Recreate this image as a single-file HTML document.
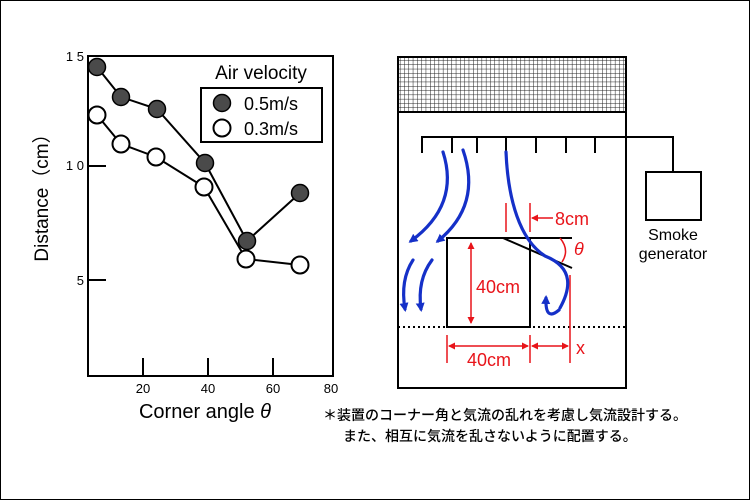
<!DOCTYPE html>
<html><head><meta charset="utf-8"><style>
body{margin:0;background:#fff;}
svg{display:block;}
text{font-family:"Liberation Sans","Noto Sans CJK JP",sans-serif;}
</style></head><body>
<svg width="750" height="500" viewBox="0 0 750 500" xmlns="http://www.w3.org/2000/svg">
<defs>
<pattern id="mesh" width="4.3" height="4.3" patternUnits="userSpaceOnUse">
<rect width="4.3" height="4.3" fill="#fff"/>
<path d="M0 0H4.3M0 0V4.3" stroke="#222" stroke-width="1"/>
</pattern>
<marker id="ab" markerWidth="9" markerHeight="9" refX="6" refY="4.5" orient="auto" markerUnits="userSpaceOnUse"><path d="M0 0L9 4.5L0 9Z" fill="#1530c8"/></marker>
<marker id="ar" markerWidth="7" markerHeight="7" refX="6" refY="3.5" orient="auto" markerUnits="userSpaceOnUse"><path d="M0 0L7 3.5L0 7Z" fill="#e8141a"/></marker>
<marker id="ar2" markerWidth="7" markerHeight="7" refX="1" refY="3.5" orient="auto" markerUnits="userSpaceOnUse"><path d="M7 0L0 3.5L7 7Z" fill="#e8141a"/></marker>
</defs>
<rect x="0.5" y="0.5" width="749" height="499" fill="#fff" stroke="#000" stroke-width="1"/>

<!-- chart -->
<rect x="88" y="56" width="245" height="320" fill="none" stroke="#000" stroke-width="2"/>
<g stroke="#000" stroke-width="2">
<line x1="88" y1="166" x2="106" y2="166"/><line x1="88" y1="280" x2="106" y2="280"/>
<line x1="143" y1="376" x2="143" y2="358"/><line x1="208" y1="376" x2="208" y2="358"/><line x1="273" y1="376" x2="273" y2="358"/>
</g>
<g font-size="13" fill="#000" text-anchor="end">
<text x="84" y="61">1 5</text><text x="84" y="170">1 0</text><text x="84" y="285">5</text>
</g>
<g font-size="13" fill="#000" text-anchor="middle">
<text x="143" y="393">20</text><text x="208" y="393">40</text><text x="273" y="393">60</text><text x="331" y="393">80</text>
</g>
<text x="205" y="418" font-size="20" text-anchor="middle">Corner angle <tspan font-style="italic">θ</tspan></text>
<text transform="translate(48,193) rotate(-90)" font-size="19" text-anchor="middle">Distance（cm）</text>

<polyline points="97,67 121,97 157,109 205,163 247,241 300,193" fill="none" stroke="#000" stroke-width="2"/>
<polyline points="97,115 121,144 156,157 204,187 246,259 300,265" fill="none" stroke="#000" stroke-width="2"/>
<g fill="#4a4a4a" stroke="#000" stroke-width="1.5">
<circle cx="97" cy="67" r="8.5"/><circle cx="121" cy="97" r="8.5"/><circle cx="157" cy="109" r="8.5"/><circle cx="205" cy="163" r="8.5"/><circle cx="247" cy="241" r="8.5"/><circle cx="300" cy="193" r="8.5"/>
</g>
<g fill="#fff" stroke="#000" stroke-width="2">
<circle cx="97" cy="115" r="8.5"/><circle cx="121" cy="144" r="8.5"/><circle cx="156" cy="157" r="8.5"/><circle cx="204" cy="187" r="8.5"/><circle cx="246" cy="259" r="8.5"/><circle cx="300" cy="265" r="8.5"/>
</g>
<text x="261" y="79" font-size="19" text-anchor="middle">Air velocity</text>
<rect x="201" y="88" width="121" height="54" fill="#fff" stroke="#000" stroke-width="2"/>
<circle cx="222" cy="103" r="8.5" fill="#4a4a4a" stroke="#000" stroke-width="1.5"/>
<circle cx="222" cy="128" r="8.5" fill="#fff" stroke="#000" stroke-width="2"/>
<text x="244" y="110" font-size="18">0.5m/s</text>
<text x="244" y="135" font-size="18">0.3m/s</text>

<!-- apparatus -->
<rect x="398" y="57" width="228" height="331" fill="#fff" stroke="#000" stroke-width="2"/>
<rect x="399" y="58" width="226" height="54" fill="url(#mesh)"/>
<line x1="398" y1="112" x2="626" y2="112" stroke="#000" stroke-width="2"/>
<g stroke="#000" stroke-width="2" fill="none">
<polyline points="422,153 422,137 673,137 673,172"/>
<line x1="452" y1="137" x2="452" y2="153"/><line x1="477" y1="137" x2="477" y2="153"/><line x1="506" y1="137" x2="506" y2="153"/>
<line x1="536" y1="137" x2="536" y2="153"/><line x1="566" y1="137" x2="566" y2="153"/><line x1="595" y1="137" x2="595" y2="153"/>
<rect x="646" y="172" width="55" height="48" fill="#fff"/>
<polyline points="572,238 447,238 447,327 530,327 530,238"/>
<line x1="503" y1="238" x2="572" y2="268"/>
</g>
<text x="673" y="240" font-size="16" text-anchor="middle">Smoke</text>
<text x="673" y="259" font-size="16" text-anchor="middle">generator</text>
<line x1="398" y1="327" x2="626" y2="327" stroke="#000" stroke-width="2" stroke-dasharray="2,3"/>

<!-- red -->
<g stroke="#e8141a" stroke-width="1.5" fill="none">
<line x1="506" y1="203" x2="506" y2="232"/><line x1="530" y1="203" x2="530" y2="232"/>
<line x1="553" y1="218" x2="532" y2="218" marker-end="url(#ar)"/>
<path d="M560 238 Q570 250 562 262"/>
<line x1="471" y1="243" x2="471" y2="323" marker-start="url(#ar2)" marker-end="url(#ar)"/>
<line x1="447" y1="335" x2="447" y2="363"/><line x1="530" y1="335" x2="530" y2="363"/>
<line x1="570" y1="275" x2="570" y2="363"/>
<line x1="449" y1="346" x2="528" y2="346" marker-start="url(#ar2)" marker-end="url(#ar)"/>
<line x1="532" y1="346" x2="568" y2="346" marker-start="url(#ar2)" marker-end="url(#ar)"/>
</g>
<g fill="#e8141a" font-size="18">
<text x="555" y="225">8cm</text>
<text x="574" y="255" font-style="italic">θ</text>
<text x="476" y="293">40cm</text>
<text x="489" y="366" text-anchor="middle">40cm</text>
<text x="576" y="354">x</text>
</g>

<!-- blue -->
<g stroke="#1530c8" stroke-width="3.2" fill="none" stroke-linecap="round">
<path d="M443 152 Q460 205 411 241" marker-end="url(#ab)"/>
<path d="M463 150 Q482 205 438 241" marker-end="url(#ab)"/>
<path d="M432 260 Q417 280 421 309" marker-end="url(#ab)"/>
<path d="M413 260 Q400 280 405 309" marker-end="url(#ab)"/>
<path d="M506 152 C508 200 520 240 545 256 C575 268 570 290 560 308"/>
<path d="M559 310 Q545 322 546 298" marker-end="url(#ab)"/>
</g>

<text x="323" y="420" font-size="14" font-weight="500">＊装置のコーナー角と気流の乱れを考慮し気流設計する。</text>
<text x="343" y="441" font-size="14" font-weight="500">また、相互に気流を乱さないように配置する。</text>
</svg>
</body></html>
